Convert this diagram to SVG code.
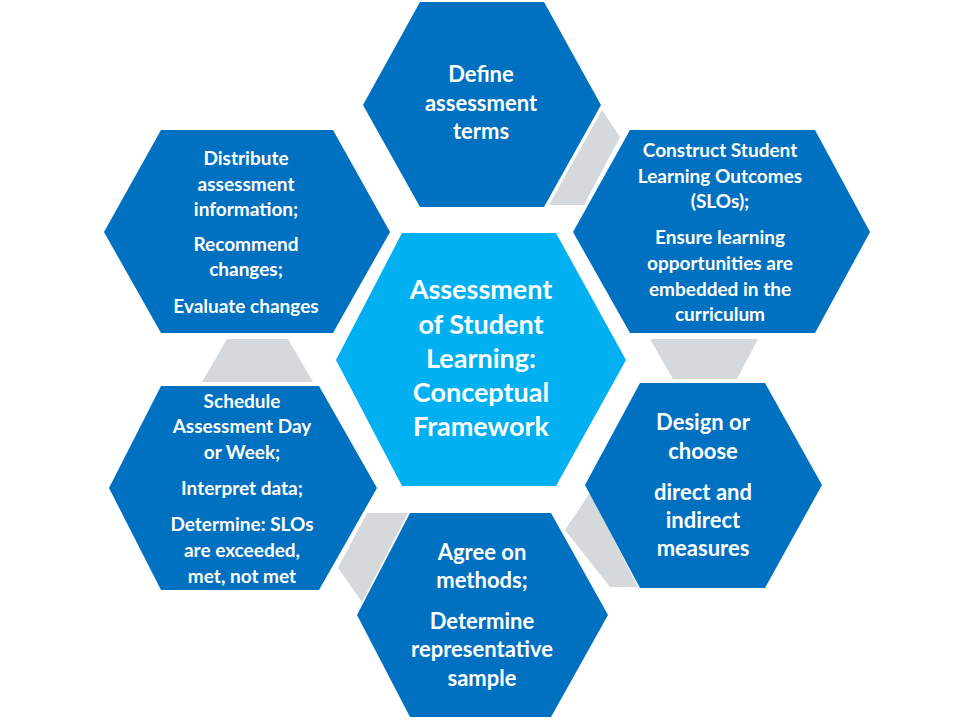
<svg xmlns="http://www.w3.org/2000/svg" width="960" height="720" viewBox="0 0 960 720">
<style>
.hex{fill:#0070C0}
.ctr{fill:#00B0F0}
.gap{fill:#D5D9DB}
text{font-family:Lato,"Open Sans","Liberation Sans",sans-serif;font-weight:bold;fill:#fff;text-anchor:middle}
.s{font-size:19px}
.m{font-size:22px}
.l{font-size:27px}
</style>
<rect width="960" height="720" fill="#fff"/>
<g id="connectors">
<polygon class="gap" points="602,110 620,137 584,205 549,205"/>
<polygon class="gap" points="650,339 758,339 737,379 673,379"/>
<polygon class="gap" points="590,493 638,587 610,587 565,530"/>
<polygon class="gap" points="367,513 408,513 362,602 338,568"/>
<polygon class="gap" points="227,339 288,339 313,382 202,382"/>
</g>
<g id="center">
<polygon class="ctr" points="336,360 402,233 556,233 626,360 556,486 402,486"/>
<text class="l"><tspan x="481" y="299">Assessment</tspan><tspan x="481" y="334">of Student</tspan><tspan x="481" y="368">Learning:</tspan><tspan x="481" y="402">Conceptual</tspan><tspan x="481" y="436">Framework</tspan></text>
</g>
<g id="define">
<polygon class="hex" points="363,105 420,2 544,2 601,105 544,207 420,207"/>
<text class="m"><tspan x="481" y="82">Define</tspan><tspan x="481" y="111">assessment</tspan><tspan x="481" y="139">terms</tspan></text>
</g>
<g id="construct">
<polygon class="hex" points="573,232 630,130 815,130 870,232 815,333 630,333"/>
<text class="s"><tspan x="720" y="157">Construct Student</tspan><tspan x="720" y="183">Learning Outcomes</tspan><tspan x="720" y="208">(SLOs);</tspan><tspan x="720" y="244">Ensure  learning</tspan><tspan x="720" y="270">opportunities are</tspan><tspan x="720" y="296">embedded in the</tspan><tspan x="720" y="321">curriculum</tspan></text>
</g>
<g id="design">
<polygon class="hex" points="585,485 640,383 765,383 822,485 765,588 640,588"/>
<text class="m"><tspan x="703" y="430">Design or</tspan><tspan x="703" y="459">choose</tspan><tspan x="703" y="500">direct and</tspan><tspan x="703" y="528">indirect</tspan><tspan x="703" y="556">measures</tspan></text>
</g>
<g id="agree">
<polygon class="hex" points="357,615 410,513 551,513 608,615 551,717 410,717"/>
<text class="m"><tspan x="482" y="560">Agree on</tspan><tspan x="482" y="588">methods;</tspan><tspan x="482" y="629">Determine</tspan><tspan x="482" y="657">representative</tspan><tspan x="482" y="686">sample</tspan></text>
</g>
<g id="schedule">
<polygon class="hex" points="109,488 161,386 319,386 377,488 319,590 161,590"/>
<text class="s"><tspan x="242" y="408">Schedule</tspan><tspan x="242" y="433">Assessment Day</tspan><tspan x="242" y="459">or Week;</tspan><tspan x="242" y="495">Interpret data;</tspan><tspan x="242" y="531">Determine: SLOs</tspan><tspan x="242" y="557">are exceeded,</tspan><tspan x="242" y="583">met, not met</tspan></text>
</g>
<g id="distribute">
<polygon class="hex" points="104,232 161,130 333,130 390,232 333,333 161,333"/>
<text class="s"><tspan x="246" y="165">Distribute</tspan><tspan x="246" y="191">assessment</tspan><tspan x="246" y="216">information;</tspan><tspan x="246" y="251">Recommend</tspan><tspan x="246" y="276">changes;</tspan><tspan x="246" y="313">Evaluate changes</tspan></text>
</g>
</svg>
